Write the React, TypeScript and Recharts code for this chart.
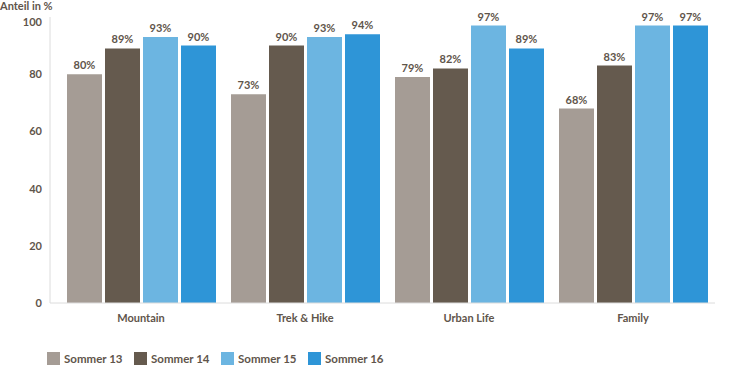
import { BarChart, Bar, XAxis, YAxis, Legend, LabelList } from "recharts";

const categories = ["Mountain", "Trek & Hike", "Urban Life", "Family"];
const sommer13 = [80, 73, 79, 68];
const sommer14 = [89, 90, 82, 83];
const sommer15 = [93, 93, 97, 97];
const sommer16 = [90, 94, 89, 97];
const yTicks = [0, 20, 40, 60, 80, 100];

const SERIES = [
  { key: "s13", name: "Sommer 13", values: sommer13, color: "#a59c95" },
  { key: "s14", name: "Sommer 14", values: sommer14, color: "#655a4e" },
  { key: "s15", name: "Sommer 15", values: sommer15, color: "#6cb5e1" },
  { key: "s16", name: "Sommer 16", values: sommer16, color: "#2e95d7" },
];

const TEXT = "#5f554b";
const FONT = "Lato, 'Open Sans', sans-serif";
const FS = 11;

const data = categories.map((name, i) => {
  const row: Record<string, string | number> = { name };
  SERIES.forEach((s) => (row[s.key] = s.values[i]));
  return row;
});

const renderLegend = () => (
  <div style={{ display: "flex" }}>
    {SERIES.map((s) => (
      <div
        key={s.key}
        style={{ display: "flex", alignItems: "center", width: 87 }}
      >
        <span
          style={{
            display: "inline-block",
            width: 13,
            height: 13,
            background: s.color,
            marginRight: 4,
          }}
        />
        <span style={{ fontSize: FS + 0.5, fontWeight: 700, color: TEXT }}>
          {s.name}
        </span>
      </div>
    ))}
  </div>
);

// the top tick label sits a bit lower than its gridline in the original
const YTick = (props: any) => {
  const { x, y, payload } = props;
  const dy = payload.value === 100 ? 5 : 0;
  return (
    <text
      x={x}
      y={y + dy}
      dy="0.355em"
      textAnchor="end"
      fontSize={FS}
      fontWeight={700}
      fill={TEXT}
      fontFamily={FONT}
    >
      {payload.value}
    </text>
  );
};

export default function App() {
  return (
    <div
      style={{
        position: "absolute",
        top: 0,
        left: 0,
        width: 730,
        height: 366,
        fontFamily: FONT,
        background: "#fff",
      }}
    >
      <div
        style={{
          position: "absolute",
          top: -1,
          left: 0,
          fontSize: FS,
          fontWeight: 700,
          color: TEXT,
        }}
      >
        Anteil in %
      </div>
      <BarChart
        width={730}
        height={366}
        data={data}
        margin={{ top: 17, right: 15, bottom: 19, left: 0 }}
        barCategoryGap={8}
        barGap={3}
      >
        <XAxis
          dataKey="name"
          axisLine={{ stroke: "#dcdcdc" }}
          tickLine={false}
          tickSize={0}
          tickMargin={11}
          height={30}
          padding={{ left: 9, right: 0 }}
          tick={{ fontSize: FS, fontWeight: 700, fill: TEXT }}
        />
        <YAxis
          domain={[0, 100]}
          ticks={yTicks}
          width={50}
          axisLine={{ stroke: "#dcdcdc" }}
          tickLine={false}
          tickSize={0}
          tickMargin={8}
          tick={<YTick />}
        />
        <Legend
          content={renderLegend}
          wrapperStyle={{ top: 352, left: 47, width: 400, height: 14 }}
        />
        {SERIES.map((s) => (
          <Bar
            key={s.key}
            dataKey={s.key}
            name={s.name}
            fill={s.color}
            isAnimationActive={false}
          >
            <LabelList
              dataKey={s.key}
              position="top"
              offset={5}
              formatter={(v: number) => `${v}%`}
              style={{ fontSize: FS, fontWeight: 700, fill: TEXT }}
            />
          </Bar>
        ))}
      </BarChart>
    </div>
  );
}
